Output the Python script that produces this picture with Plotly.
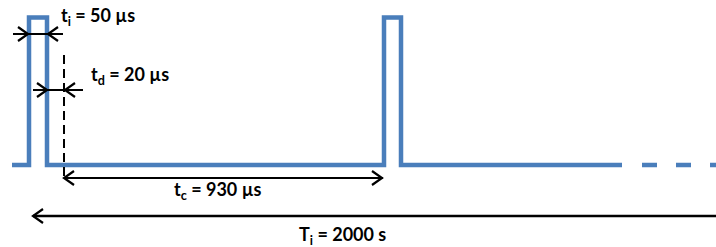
import plotly.graph_objects as go

# Waveform (diagram units: x in pixels across, y in pixels down)
wave_x = [12, 29, 29, 47, 47, 384, 384, 401, 401, 622]
wave_y = [165, 165, 17.5, 17.5, 165, 165, 17.5, 17.5, 165, 165]
tail_x = [642, 720]
tail_y = [165, 165]

# Dashed marker line
mark_x = [64, 64]
mark_y = [55, 178]

# Dimension arrows
arrow_names = ["ti", "td", "tc", "Ti"]
arrow_x0 = [13, 33, 64, 33]
arrow_x1 = [63, 83, 383, 720]
arrow_y = [34, 90, 178, 216]
arrow_heads = [[(28, 1), (48, -1)], [(47, 1), (65, -1)], [(64, -1), (382, 1)], [(33, -1)]]
arrow_w = [2, 2, 2, 2.6]

labels = ["t<sub>i</sub> = 50 µs", "t<sub>d</sub> = 20 µs", "t<sub>c</sub> = 930 µs", "T<sub>i</sub> = 2000 s"]
label_x = [59, 89, 172, 297]
label_y = [16, 75, 190, 235]

BLUE = "#4A7EBB"

fig = go.Figure()
fig.add_trace(go.Scatter(x=wave_x, y=wave_y, mode="lines",
                         line=dict(color=BLUE, width=4.5), hoverinfo="skip"))
fig.add_trace(go.Scatter(x=tail_x, y=tail_y, mode="lines",
                         line=dict(color=BLUE, width=4.5, dash="15px,19px"), hoverinfo="skip"))
fig.add_trace(go.Scatter(x=mark_x, y=mark_y, mode="lines",
                         line=dict(color="black", width=2, dash="9px,5px"), hoverinfo="skip"))

for x0, x1, y, heads, w in zip(arrow_x0, arrow_x1, arrow_y, arrow_heads, arrow_w):
    fig.add_trace(go.Scatter(x=[x0, x1], y=[y, y], mode="lines",
                             line=dict(color="black", width=w), hoverinfo="skip"))
    for hx, d in heads:
        fig.add_trace(go.Scatter(x=[hx - d * 10, hx, hx - d * 10], y=[y - 7, y, y + 7],
                                 mode="lines", line=dict(color="black", width=2.2),
                                 hoverinfo="skip"))

for t, x, y in zip(labels, label_x, label_y):
    fig.add_annotation(x=x, y=y, text="<b>" + t + "</b>", showarrow=False,
                       xanchor="left", yanchor="middle",
                       font=dict(family="Lato", size=18, color="black"))

fig.update_layout(width=716, height=247, margin=dict(l=0, r=0, t=0, b=0),
                  paper_bgcolor="white", plot_bgcolor="white", showlegend=False,
                  hovermode=False,
                  xaxis=dict(range=[0, 716], visible=False, fixedrange=True),
                  yaxis=dict(range=[247, 0], visible=False, fixedrange=True))
fig.write_html("out.html", config={"displayModeBar": False, "staticPlot": True},
               post_script="document.body.style.margin='0';document.body.style.overflow='hidden';")
